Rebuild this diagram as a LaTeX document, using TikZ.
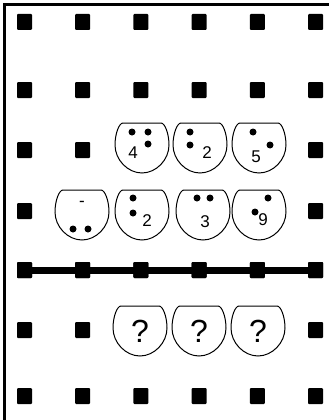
\documentclass[tikz,border=0pt]{standalone}
\usepackage{fontspec}
\setsansfont{Liberation Sans}
\usetikzlibrary{positioning}

\begin{document}
\begin{tikzpicture}[
  x=1pt, y=-1pt,
  peg/.style={fill=black, minimum width=15pt, minimum height=16pt, inner sep=0pt, rounded corners=1pt},
  num/.style={font=\sffamily\fontsize{17}{17}\selectfont, inner sep=0pt},
  ask/.style={font=\sffamily\fontsize{32}{32}\selectfont, inner sep=0pt},
  pot/.pic={
    \draw[line width=1pt, fill=white] (-19,-25) -- (19,-25) .. controls (23,-25) and (27,-14) .. (27,-3)
      .. controls (27,12) and (14,25) .. (0,25)
      .. controls (-14,25) and (-27,12) .. (-27,-3)
      .. controls (-27,-14) and (-23,-25) .. (-19,-25) -- cycle;
    \coordinate (-c) at (0,0);
  }
]
\useasboundingbox (0,0) rectangle (329,420);

% frame
\draw[line width=3pt] (4.5,420) -- (4.5,4.5) -- (329,4.5);

% pegs
\foreach \r/\y in {1/22, 2/90, 3/150, 4/211, 5/270, 6/330, 7/396} {
  \foreach \c in {1,...,6} {
    \node[peg] (peg-\r-\c) at ({24.5+58.2*(\c-1)},\y) {};
  }
}
\draw[line width=7pt] (peg-5-1) -- (peg-5-6);
\foreach \c in {1,...,6} \node[peg] at (peg-5-\c) {};

% upper row
\pic (a1) at (142,148) {pot};
\fill (132,132) circle (3.5) (148,132) circle (3.5) (148,144) circle (3.5);
\node[num] (a1n) at (133,153) {4};
\pic (a2) at (200,148) {pot};
\fill (190,132) circle (3.5) (190,145) circle (3.5);
\node[num] (a2n) at (207,153) {2};
\pic (a3) at (259,148) {pot};
\fill (253,132) circle (3.5) (270,145) circle (3.5);
\node[num] (a3n) at (256,157) {5};

% lower row
\pic (b1) at (82,215) {pot};
\node[num] (b1n) at (82,204) {-};
\fill (73,229) circle (3.5) (88,229) circle (3.5);
\pic (b2) at (142,215) {pot};
\fill (133,198) circle (3.5) (133,213) circle (3.5);
\node[num] (b2n) at (147,221) {2};
\pic (b3) at (203,215) {pot};
\fill (197,198) circle (3.5) (210,198) circle (3.5);
\node[num] (b3n) at (205,222) {3};
\pic (b4) at (259,215) {pot};
\fill (268,198) circle (3.5) (255,212) circle (3.5);
\node[num] (b4n) at (263,220) {9};

% answer row
\pic (c1) at (140,331) {pot};
\node[ask] (c1q) at (c1-c) {?};
\pic (c2) at (199,331) {pot};
\node[ask] (c2q) at (c2-c) {?};
\pic (c3) at (258,331) {pot};
\node[ask] (c3q) at (c3-c) {?};
\end{tikzpicture}
\end{document}
